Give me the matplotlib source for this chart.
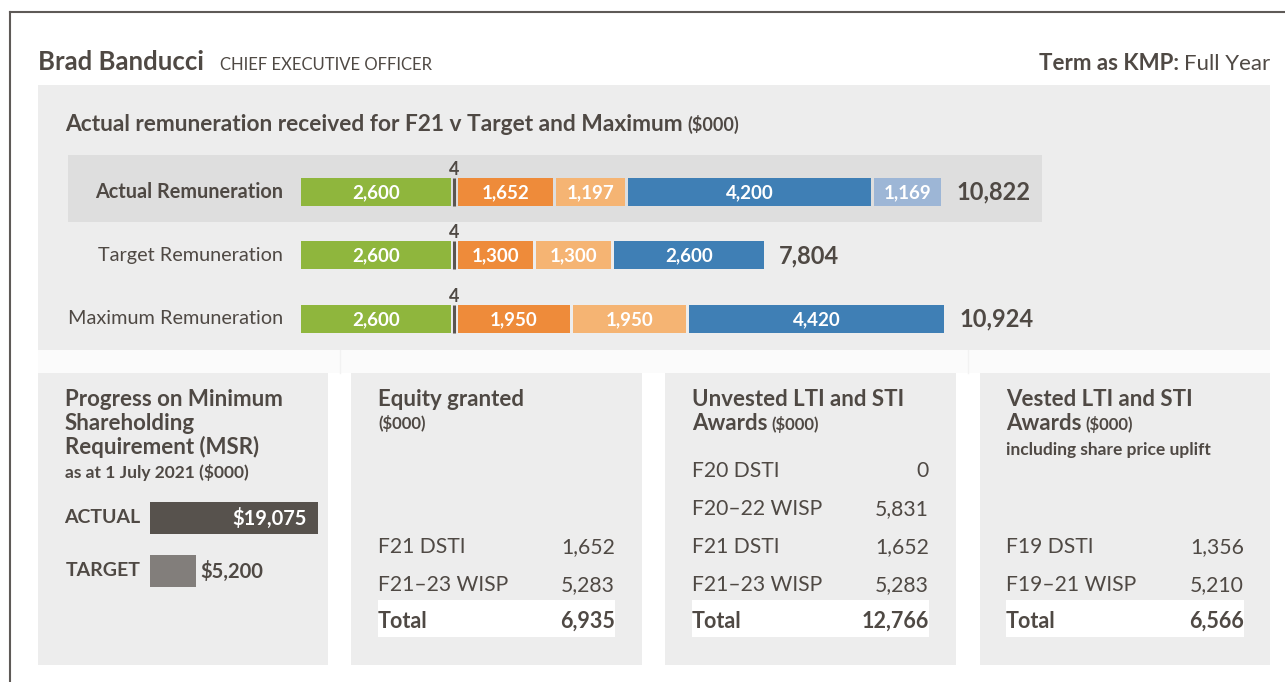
import matplotlib.pyplot as plt
from matplotlib.patches import Rectangle
from matplotlib.lines import Line2D

# ---- data ----
rows = ['Actual Remuneration', 'Target Remuneration', 'Maximum Remuneration']
actual = [2600, 4, 1652, 1197, 4200, 1169]
target = [2600, 4, 1300, 1300, 2600]
maximum = [2600, 4, 1950, 1950, 4420]
totals = [10822, 7804, 10924]

msr_labels = ['ACTUAL', 'TARGET']
msr_values = [19075, 5200]

equity_items = ['F21 DSTI', 'F21–23 WISP']
equity_values = [1652, 5283]
equity_total = 6935

unvested_items = ['F20 DSTI', 'F20–22 WISP', 'F21 DSTI', 'F21–23 WISP']
unvested_values = [0, 5831, 1652, 5283]
unvested_total = 12766

vested_items = ['F19 DSTI', 'F19–21 WISP']
vested_values = [1356, 5210]
vested_total = 6566

# ---- style ----
seg_colors = ['#8fb63d', '#5a5450', '#ee8b3a', '#f5b473', '#3f7fb5', '#9db6d6']
TXT = '#4f4944'
PANEL = '#ededed'
HILITE = '#dedede'

W, H = 1285, 682
plt.rcParams['font.family'] = ['Lato', 'DejaVu Sans']
fig = plt.figure(figsize=(W / 100, H / 100), dpi=100)


def box(x0, y0, x1, y1, color, z=-2):
    fig.patches.append(Rectangle((x0 / W, 1 - y1 / H), (x1 - x0) / W, (y1 - y0) / H,
                                 transform=fig.transFigure, color=color, lw=0, zorder=z))


def txt(x, y, s, **kw):
    kw.setdefault('color', TXT)
    kw.setdefault('va', 'baseline')
    return fig.text(x / W, 1 - y / H, s, **kw)


def after(t, s, gap=4, **kw):
    # put a second piece of text right after an existing one, same baseline
    r = fig.canvas.get_renderer()
    bb = t.get_window_extent(r)
    x, y = t.get_position()
    kw.setdefault('color', TXT)
    return fig.text((bb.x1 + gap) / W, y, s, va='baseline', **kw)


# outer frame
fig.add_artist(Line2D([10 / W, 1], [1 - 12 / H] * 2, color='#5e5a57', lw=1.5))
fig.add_artist(Line2D([10 / W] * 2, [0, 1 - 12 / H], color='#5e5a57', lw=1.5))

# header
t = txt(38, 70, 'Brad Banducci', fontsize=18.5, fontweight='bold')
after(t, 'CHIEF EXECUTIVE OFFICER', gap=16, fontsize=12)
t = txt(1270, 70, 'Full Year', fontsize=16, ha='right')
r = fig.canvas.get_renderer()
bb = t.get_window_extent(r)
fig.text((bb.x0 - 5) / W, 1 - 70 / H, 'Term as KMP:', fontsize=16, fontweight='bold',
         ha='right', va='baseline', color=TXT)

# top panel
box(38, 85, 1270, 350, PANEL)
t = txt(65, 131, 'Actual remuneration received for F21 v Target and Maximum',
        fontsize=16.4, fontweight='bold')
after(t, '($000)', gap=5, fontsize=13, fontweight='bold')

# faint separators in the white strip below the top panel
box(38, 350, 1270, 373, '#fbfbfb', z=-3)
for xs in (340, 968):
    fig.add_artist(Line2D([xs / W] * 2, [1 - 373 / H, 1 - 350 / H], color='#f2f2f2', lw=1))

# stacked bars
scale = 0.0577  # px per $000
gap = 55
ax = fig.add_axes([68 / W, 1 - 345 / H, (1042 - 68) / W, 195 / H])
ax.set_xlim(-(301 - 68) / scale, (1042 - 301) / scale)
ax.set_ylim(2.41, -0.66)
ax.axis('off')
ax.axhspan(-0.58, 0.47, color=HILITE, lw=0, zorder=0)

for row, vals in enumerate([actual, target, maximum]):
    left = 0
    for i, v in enumerate(vals):
        if i == 1:
            ax.barh(row, v, left=left, height=0.44, color=seg_colors[i],
                    edgecolor=seg_colors[i], lw=2.2, zorder=2)
            ax.text(left + v / 2, row - 0.36, f'{v}', ha='center', va='center',
                    fontsize=13, fontweight='bold', color=TXT)
        else:
            ax.barh(row, v, left=left, height=0.44, color=seg_colors[i], lw=0, zorder=2)
            ax.text(left + v / 2, row + 0.01, f'{v:,}', ha='center', va='center',
                    fontsize=13.5, fontweight='bold', color='white', zorder=3)
        left += v + gap
    end = left - gap
    ax.annotate(f'{totals[row]:,}', (end, row), xytext=(11, 0), textcoords='offset points',
                ha='left', va='center', fontsize=17, fontweight='bold', color=TXT)
    ax.annotate(rows[row], (0, row), xytext=(-13, 0), textcoords='offset points',
                ha='right', va='center', fontsize=14.3, color=TXT,
                fontweight='bold' if row == 0 else 'normal')

# bottom panels
panels = [(38, 328), (351, 642), (665, 956), (980, 1270)]
for x0, x1 in panels:
    box(x0, 373, x1, 665, PANEL)

# panel 1 - MSR
for i, s in enumerate(['Progress on Minimum', 'Shareholding', 'Requirement (MSR)']):
    txt(65, 406 + 24 * i, s, fontsize=16, fontweight='bold')
txt(65, 478, 'as at 1 July 2021 ($000)', fontsize=12.5, fontweight='bold')

mscale = 168 / 19075
ax2 = fig.add_axes([150 / W, 1 - 595 / H, 178 / W, 100 / H])
ax2.set_xlim(0, 178 / mscale)
ax2.set_ylim(1.453, -0.434)
ax2.axis('off')
ax2.barh([0, 1], msr_values, height=0.62, color=['#57524d', '#827e7b'], lw=0)
for i, (lab, v) in enumerate(zip(msr_labels, msr_values)):
    ax2.annotate(lab, (0, i), xytext=(-7, 0), textcoords='offset points', ha='right',
                 va='center', fontsize=14, fontweight='bold', color=TXT, annotation_clip=False)
    if i == 0:
        ax2.annotate(f'${v:,}', (v, i), xytext=(-8, 0), textcoords='offset points',
                     ha='right', va='center', fontsize=14.5, fontweight='bold', color='white')
    else:
        ax2.annotate(f'${v:,}', (v, i), xytext=(3, 0), textcoords='offset points',
                     ha='left', va='center', fontsize=14.5, fontweight='bold', color=TXT)


def table(x0, x1, items, values, total, first_y):
    for k, (name, v) in enumerate(zip(items, values)):
        y = first_y + 38 * k
        txt(x0, y, name, fontsize=15.2)
        txt(x1, y, f'{v:,}', fontsize=15.2, ha='right')
    box(x0, 600, x1, 637, 'white', z=-1)
    txt(x0, 628, 'Total', fontsize=15.5, fontweight='bold')
    txt(x1, 628, f'{total:,}', fontsize=15.5, fontweight='bold', ha='right')


# panel 2 - equity granted
txt(378, 406, 'Equity granted', fontsize=16, fontweight='bold')
txt(378, 429, '($000)', fontsize=12, fontweight='bold')
table(378, 615, equity_items, equity_values, equity_total, 553)

# panel 3 - unvested
txt(692, 406, 'Unvested LTI and STI', fontsize=16, fontweight='bold')
t = txt(692, 430, 'Awards', fontsize=16, fontweight='bold')
after(t, '($000)', gap=4, fontsize=12, fontweight='bold')
table(692, 929, unvested_items, unvested_values, unvested_total, 477)

# panel 4 - vested
txt(1006, 406, 'Vested LTI and STI', fontsize=16, fontweight='bold')
t = txt(1006, 430, 'Awards', fontsize=16, fontweight='bold')
after(t, '($000)', gap=4, fontsize=12, fontweight='bold')
txt(1006, 455, 'including share price uplift', fontsize=12.5, fontweight='bold')
table(1006, 1244, vested_items, vested_values, vested_total, 553)

fig.savefig('out.png', dpi=100, facecolor='white')
